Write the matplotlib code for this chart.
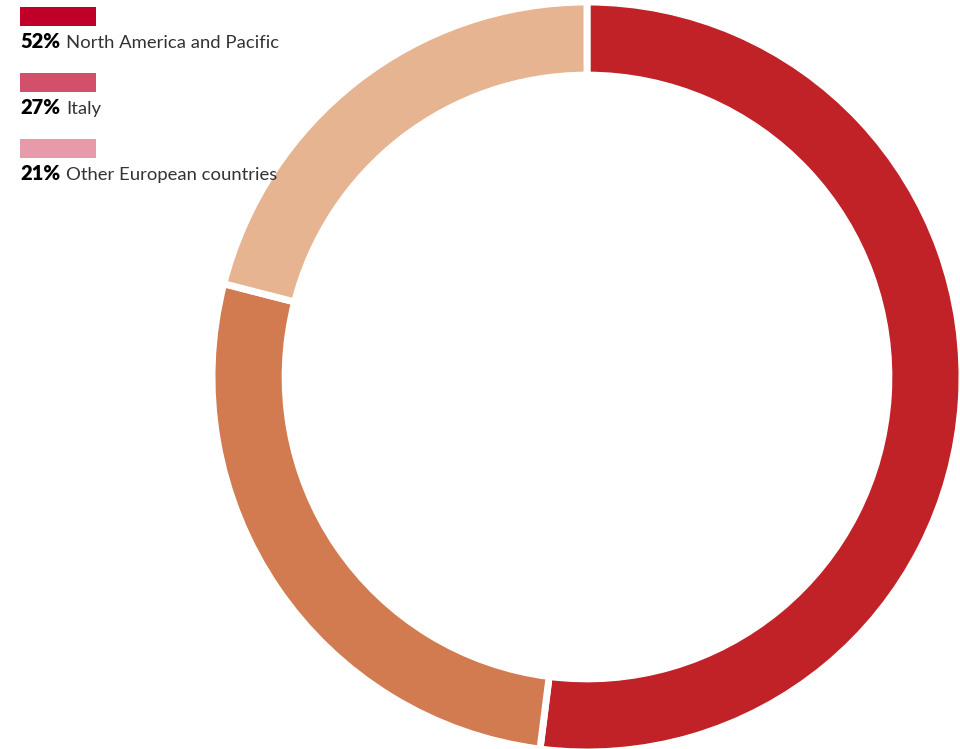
import matplotlib
matplotlib.use("Agg")
import matplotlib.pyplot as plt
from matplotlib.patches import Rectangle

# data
labels = ["North America and Pacific", "Italy", "Other European countries"]
shares = [52, 27, 21]
slice_colors = ["#C02228", "#D27A50", "#E6B491"]
legend_colors = ["#C1002A", "#D2506A", "#E79AA9"]

W, H = 960, 749
fig = plt.figure(figsize=(W / 100, H / 100), dpi=100)
ax = fig.add_axes([0, 0, 1, 1])

# donut, clockwise from the top
cx, cy, r = 587, H - 377, 375
ax.pie(shares, colors=slice_colors, startangle=90, counterclock=False,
       center=(cx, cy), radius=r, frame=True,
       wedgeprops=dict(width=r * 0.195, edgecolor="white", linewidth=5))
ax.set_xlim(0, W)
ax.set_ylim(0, H)
ax.set_aspect("equal")
ax.axis("off")

# legend: colour bar above "xx% label"
renderer = fig.canvas.get_renderer()
for i, (lab, val) in enumerate(zip(labels, shares)):
    top = 7 + i * 66
    ax.add_patch(Rectangle((20, H - top - 19), 76, 19, color=legend_colors[i], lw=0))
    base = H - (top + 41)
    t = ax.text(20, base, f"{val}%", fontsize=14.5, fontweight="heavy",
                family="Lato", color="black", va="baseline")
    bb = t.get_window_extent(renderer)
    ax.text(bb.x1 + 6, base, lab, fontsize=13.3, fontweight="normal",
            family="Lato", color="#333333", va="baseline")

fig.savefig("out.png", dpi=100)
